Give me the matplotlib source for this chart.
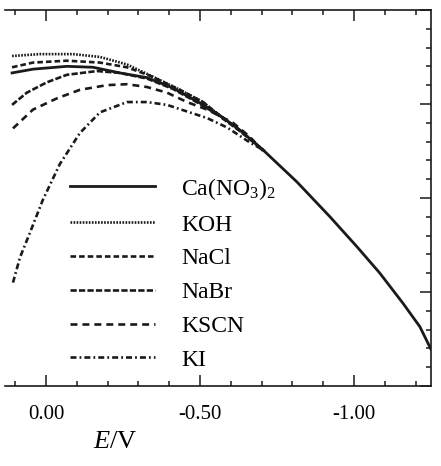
import numpy as np
import matplotlib
matplotlib.use("Agg")
import matplotlib.pyplot as plt
from matplotlib.ticker import MultipleLocator, FixedLocator

plt.rcParams['font.family'] = ['Liberation Serif', 'DejaVu Serif']
plt.rcParams['mathtext.fontset'] = 'custom'
plt.rcParams['mathtext.rm'] = 'Liberation Serif'
plt.rcParams['mathtext.it'] = 'Liberation Serif:italic'
plt.rcParams['lines.scale_dashes'] = False

# electrocapillary curves, E in V, gamma in arbitrary units (no y labels)
e_ca = [0.110, 0.042, -0.068, -0.153, -0.240, -0.328, -0.412, -0.500, -0.555,
        -0.630, -0.705, -0.815, -0.922, -1.010, -1.084, -1.159, -1.214, -1.250]
g_ca = [3.33, 3.37, 3.40, 3.39, 3.33, 3.28, 3.17, 3.01, 2.90,
        2.72, 2.51, 2.17, 1.80, 1.48, 1.20, 0.88, 0.63, 0.39]

e_koh = [0.110, 0.019, -0.088, -0.175, -0.263, -0.347, -0.435, -0.510, -0.555, -0.630, -0.705]
g_koh = [3.51, 3.53, 3.53, 3.50, 3.42, 3.29, 3.15, 3.02, 2.90, 2.72, 2.51]

e_nacl = [0.110, 0.042, -0.068, -0.175, -0.263, -0.338, -0.435, -0.510, -0.555, -0.630, -0.705]
g_nacl = [3.39, 3.44, 3.46, 3.44, 3.39, 3.30, 3.15, 3.02, 2.90, 2.72, 2.51]

e_nabr = [0.110, 0.062, -0.003, -0.068, -0.166, -0.240, -0.328, -0.412, -0.500, -0.555, -0.630, -0.705]
g_nabr = [2.99, 3.12, 3.23, 3.31, 3.35, 3.33, 3.27, 3.16, 3.00, 2.89, 2.71, 2.51]

e_kscn = [0.107, 0.042, -0.036, -0.110, -0.198, -0.263, -0.328, -0.393, -0.458, -0.523,
          -0.607, -0.662, -0.705]
g_kscn = [2.74, 2.94, 3.06, 3.15, 3.20, 3.21, 3.18, 3.12, 3.02, 2.94,
          2.80, 2.65, 2.50]

e_ki = [0.107, 0.084, 0.052, 0.010, -0.045, -0.110, -0.175, -0.263, -0.328, -0.393,
        -0.458, -0.523, -0.588, -0.662, -0.711]
g_ki = [1.10, 1.37, 1.63, 1.98, 2.36, 2.69, 2.91, 3.02, 3.02, 2.99,
        2.92, 2.85, 2.75, 2.59, 2.50]

labels = ['Ca(NO$_3$)$_2$', 'KOH', 'NaCl', 'NaBr', 'KSCN', 'KI']
xticks = [0.0, -0.5, -1.0]
xticklabels = ['0.00', '-0.50', '-1.00']

fig = plt.figure(figsize=(4.41, 4.66), dpi=100)
ax = fig.add_axes([0.0113, 0.1717, 0.966, 0.807])

c = '#1a1a1a'
ax.plot(e_ca, g_ca, color=c, lw=2.0, label=labels[0])
ax.plot(e_koh, g_koh, color=c, lw=1.9, dashes=(1.2, 1.0), label=labels[1])
ax.plot(e_nacl, g_nacl, color=c, lw=1.9, dashes=(4.0, 2.2), label=labels[2])
ax.plot(e_nabr, g_nabr, color=c, lw=1.9, dashes=(4.5, 1.6), label=labels[3])
ax.plot(e_kscn, g_kscn, color=c, lw=1.9, dashes=(5.0, 3.6), label=labels[4])
ax.plot(e_ki, g_ki, color=c, lw=1.9, dashes=(4.3, 2.2, 1.3, 2.2), label=labels[5])

ax.set_xlim(0.133, -1.25)
ax.set_ylim(0, 4)

ax.xaxis.set_major_locator(FixedLocator(xticks))
ax.set_xticklabels(xticklabels)
ax.xaxis.set_minor_locator(MultipleLocator(0.1))
ax.yaxis.set_major_locator(MultipleLocator(1))
ax.yaxis.set_minor_locator(MultipleLocator(0.2))

ax.tick_params(axis='x', which='both', direction='in', top=True, bottom=True,
               labelsize=15, pad=14, color=c, width=1.1)
ax.tick_params(axis='y', which='both', direction='in', left=False, right=True,
               labelleft=False, labelright=False, color=c, width=1.1)
ax.tick_params(which='major', length=8)
ax.tick_params(which='minor', length=3.5)

ax.spines['left'].set_visible(False)
for s in ['top', 'right', 'bottom']:
    ax.spines[s].set_linewidth(1.2)
    ax.spines[s].set_color(c)

ax.set_xlabel('$E$/V', fontsize=19)
ax.xaxis.set_label_coords(0.26, -0.12)

ax.legend(loc='upper left', bbox_to_anchor=(0.153, 0.559), frameon=False,
          fontsize=17, handlelength=3.6, handletextpad=1.1, labelspacing=0.52,
          borderpad=0, borderaxespad=0)

fig.savefig('out.png', dpi=100, facecolor='white')
